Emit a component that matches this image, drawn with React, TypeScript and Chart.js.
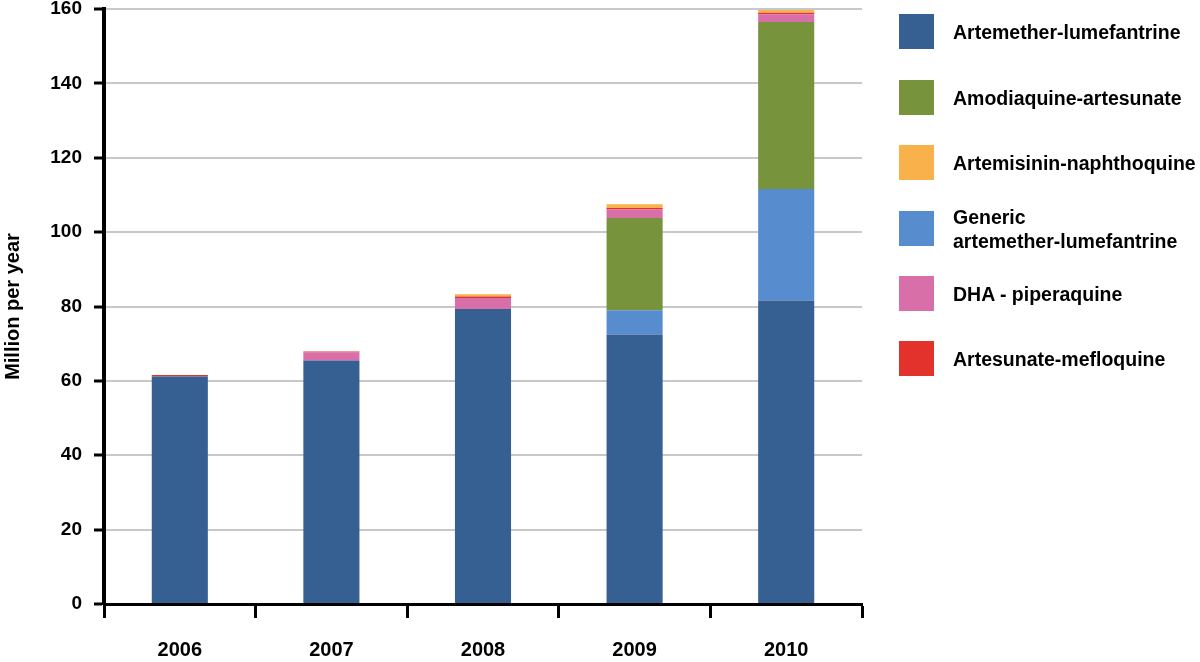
import React, { useEffect, useRef } from "react";
import Chart from "chart.js/auto";

const years = ["2006", "2007", "2008", "2009", "2010"];
const artemetherLumefantrine = [61.2, 65.5, 79.3, 72.5, 81.6];
const genericAL = [0, 0, 0, 6.5, 30.0];
const amodiaquineArtesunate = [0, 0, 0, 24.8, 44.9];
const dhaPiperaquine = [0, 2.1, 3.0, 2.3, 2.1];
const artesunateMefloquine = [0.4, 0.3, 0.4, 0.4, 0.4];
const artemisininNaphthoquine = [0, 0, 0.6, 1.0, 0.7];
const yTicks = [0, 20, 40, 60, 80, 100, 120, 140, 160];

const colors = {
  al: "#376092",
  generic: "#578dcf",
  amq: "#77933c",
  dha: "#d86fa9",
  asmq: "#e3312b",
  asnq: "#f8b14b",
};

const legendItems = [
  { lines: ["Artemether-lumefantrine"], color: colors.al },
  { lines: ["Amodiaquine-artesunate"], color: colors.amq },
  { lines: ["Artemisinin-naphthoquine"], color: colors.asnq },
  { lines: ["Generic", "artemether-lumefantrine"], color: colors.generic },
  { lines: ["DHA - piperaquine"], color: colors.dha },
  { lines: ["Artesunate-mefloquine"], color: colors.asmq },
];

const FONT = "'Liberation Sans', Arial, Helvetica, sans-serif";

export default function App() {
  const ref = useRef<HTMLCanvasElement | null>(null);

  useEffect(() => {
    if (!ref.current) return;
    const mk = (label: string, data: number[], color: string) => ({
      label,
      data,
      backgroundColor: color,
      borderWidth: 0,
      barPercentage: 0.37,
      categoryPercentage: 1,
    });
    const chart = new Chart(ref.current, {
      type: "bar",
      data: {
        labels: years,
        datasets: [
          mk("Artemether-lumefantrine", artemetherLumefantrine, colors.al),
          mk("Generic artemether-lumefantrine", genericAL, colors.generic),
          mk("Amodiaquine-artesunate", amodiaquineArtesunate, colors.amq),
          mk("DHA - piperaquine", dhaPiperaquine, colors.dha),
          mk("Artesunate-mefloquine", artesunateMefloquine, colors.asmq),
          mk("Artemisinin-naphthoquine", artemisininNaphthoquine, colors.asnq),
        ],
      },
      options: {
        animation: false,
        responsive: false,
        maintainAspectRatio: false,
        layout: { padding: { top: 9, right: 338, left: 0, bottom: 0 } },
        plugins: { legend: { display: false }, tooltip: { enabled: false } },
        scales: {
          x: {
            stacked: true,
            offset: true,
            grid: {
              offset: true,
              drawOnChartArea: false,
              drawTicks: true,
              tickLength: 14,
              tickColor: "#000",
              tickWidth: 3,
            },
            border: { display: true, color: "#000", width: 3 },
            ticks: {
              color: "#000",
              padding: 20,
              font: { family: FONT, size: 20, weight: "bold" },
            },
            afterFit: (s: any) => {
              s.height = 58;
              s.paddingLeft = 0;
              s.paddingRight = 0;
            },
          },
          y: {
            stacked: true,
            min: 0,
            max: 160,
            afterBuildTicks: (s: any) => {
              s.ticks = yTicks.map((v) => ({ value: v }));
            },
            grid: {
              color: "#c8c8c8",
              lineWidth: 2,
              drawTicks: true,
              tickLength: 10,
              tickColor: "#000",
              tickWidth: 3,
            },
            border: { display: true, color: "#000", width: 4 },
            ticks: {
              color: "#000",
              padding: 12,
              font: { family: FONT, size: 19, weight: "bold" },
            },
            title: {
              display: true,
              text: "Million per year",
              color: "#000",
              padding: { top: 1, bottom: 0 },
              font: { family: FONT, size: 20, weight: "bold" },
            },
            afterFit: (s: any) => {
              s.width = 104;
              s.paddingTop = 0;
              s.paddingBottom = 0;
            },
          },
        },
      },
    });
    return () => chart.destroy();
  }, []);

  const boxTops = [14, 80, 145, 211, 276, 341];

  return (
    <div style={{ position: "fixed", left: 0, top: 0, width: 1200, height: 662, background: "#fff" }}>
      <canvas ref={ref} width={1200} height={662} style={{ position: "absolute", left: 0, top: 0 }} />
      {legendItems.map((it, i) => (
        <div
          key={i}
          style={{
            position: "absolute",
            left: 899,
            top: boxTops[i],
            height: 35,
            display: "flex",
            alignItems: "center",
          }}
        >
          <div style={{ width: 35, height: 35, background: it.color, flex: "0 0 auto" }} />
          <div
            style={{
              marginLeft: 19,
              fontFamily: FONT,
              fontWeight: "bold",
              fontSize: 19.5,
              lineHeight: "24px",
              color: "#000",
              whiteSpace: "nowrap",
            }}
          >
            {it.lines.map((l, j) => (
              <div key={j}>{l}</div>
            ))}
          </div>
        </div>
      ))}
    </div>
  );
}
